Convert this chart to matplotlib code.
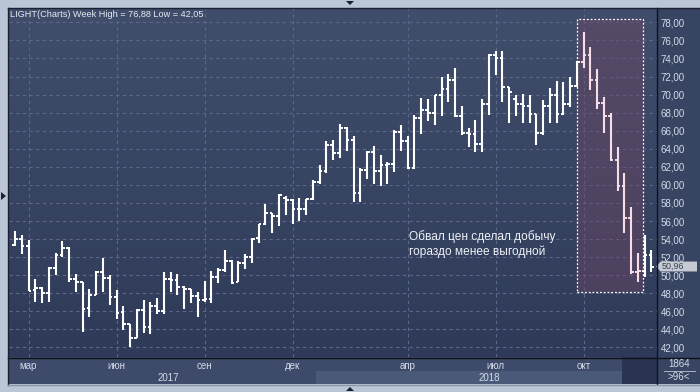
import matplotlib
matplotlib.use("Agg")
import matplotlib.pyplot as plt
import numpy as np
from matplotlib.patches import Rectangle, Polygon
from matplotlib.lines import Line2D

W, H = 700, 392

# weekly OHLC, LIGHT, from week of 20 Feb 2017 to week of 10 Dec 2018
opens = [53.3, 54.0, 53.2, 48.4, 48.6, 48.0, 50.8, 52.2, 53.0, 49.6,
         49.2, 46.4, 47.8, 50.4, 49.7, 47.6, 45.9, 44.6, 43.0, 46.2,
         44.3, 46.6, 46.0, 49.6, 49.5, 48.7, 48.5, 47.7, 47.3, 47.4,
         49.8, 50.6, 51.6, 49.3, 51.3, 52.0, 54.1, 55.7, 56.9, 56.6,
         58.6, 58.3, 57.3, 57.3, 58.4, 60.3, 61.5, 64.4, 63.5, 66.3,
         65.0, 59.1, 61.6, 63.6, 61.5, 62.2, 62.3, 65.9, 64.9, 61.9,
         67.4, 68.3, 68.0, 69.9, 70.6, 71.6, 67.6, 65.7, 65.6, 64.5,
         69.0, 74.4, 74.0, 70.8, 69.5, 69.0, 68.7, 67.8, 65.8, 68.7,
         70.0, 67.9, 69.0, 70.9, 73.6, 74.4, 71.6, 69.1, 67.6, 62.8,
         59.9, 56.3, 50.3, 50.5, 52.2]
highs = [54.9, 54.5, 53.9, 49.6, 48.7, 50.9, 52.5, 53.8, 53.1, 50.1,
         49.3, 48.5, 50.5, 51.9, 50.0, 48.4, 46.6, 44.6, 46.3, 47.2,
         47.0, 47.5, 50.3, 50.4, 50.1, 48.8, 48.5, 48.1, 49.4, 50.5,
         50.8, 52.8, 51.7, 51.6, 52.4, 54.1, 55.7, 57.9, 56.9, 59.0,
         58.8, 58.4, 58.5, 58.4, 60.5, 62.2, 64.9, 65.0, 66.7, 66.4,
         65.4, 61.9, 63.8, 64.3, 63.3, 62.5, 66.1, 66.6, 65.4, 67.7,
         69.6, 69.5, 70.0, 72.0, 72.3, 73.0, 68.7, 66.3, 67.2, 69.5,
         74.5, 74.8, 74.8, 70.8, 70.0, 70.1, 70.0, 67.8, 69.4, 70.7,
         71.5, 71.4, 72.0, 73.7, 76.88, 75.3, 72.8, 69.7, 68.0, 64.2,
         61.3, 57.5, 52.5, 54.5, 52.8]
lows = [53.2, 52.4, 48.2, 47.0, 46.9, 47.0, 50.0, 52.0, 49.2, 48.1,
        43.7, 45.4, 47.8, 48.1, 46.7, 45.2, 43.9, 42.05, 43.0, 43.6,
        43.5, 45.7, 45.7, 48.1, 47.8, 46.3, 46.9, 45.4, 47.0, 46.9,
        49.1, 50.3, 49.0, 49.2, 50.7, 51.4, 53.6, 55.6, 54.7, 55.5,
        56.7, 55.7, 56.0, 56.7, 58.3, 60.1, 61.3, 62.8, 63.0, 63.7,
        58.1, 58.1, 60.7, 60.1, 59.9, 60.1, 61.4, 63.7, 61.8, 61.8,
        65.6, 67.1, 66.6, 67.6, 69.2, 67.5, 65.5, 64.2, 63.6, 63.6,
        67.7, 72.2, 69.2, 66.9, 67.6, 66.8, 66.9, 64.4, 65.5, 66.9,
        66.9, 67.7, 68.6, 70.8, 73.0, 70.5, 68.4, 65.8, 62.6, 59.3,
        54.7, 50.1, 49.3, 49.8, 50.4]
closes = [54.0, 53.2, 48.3, 48.6, 48.0, 50.8, 52.2, 53.0, 49.6, 49.2,
          46.3, 47.8, 50.4, 49.7, 47.6, 45.8, 44.6, 43.0, 46.2, 44.3,
          46.6, 46.0, 49.6, 49.5, 48.7, 48.5, 47.7, 47.3, 47.4, 49.8,
          50.6, 51.6, 49.1, 51.3, 52.0, 54.0, 55.7, 56.9, 56.6, 58.9,
          58.3, 57.3, 57.3, 58.4, 60.3, 61.5, 64.4, 63.5, 66.3, 65.0,
          59.1, 61.6, 63.6, 61.5, 62.2, 62.3, 65.9, 64.9, 61.9, 67.4,
          68.3, 68.0, 69.9, 70.6, 71.6, 67.6, 65.7, 65.6, 64.5, 69.0,
          74.4, 74.0, 70.8, 70.3, 69.0, 68.7, 67.8, 65.8, 68.7, 70.0,
          67.9, 69.0, 70.9, 73.6, 74.4, 71.6, 69.1, 67.6, 62.8, 59.9,
          56.3, 50.3, 50.5, 52.2, 50.96]

month_labels = ["мар", "июн", "сен", "дек", "апр", "июл", "окт"]
month_bars = [2, 15, 28, 41, 58, 71, 84]
year_labels = ["2017", "2018"]
year_pos = [22.6, 70.0]
first_bar_2018 = 45
highlight_bars = (83.0, 92.8)
highlight_prices = (48.1, 78.35)
price_ticks = list(range(42, 80, 2))

FRAME = "#bac6d6"
PANEL = "#374462"
GRID = "#5a6889"
TXT = "#d4dbe8"
FONT = "Liberation Sans"


def fx(px):
    return px / W


def fy(py):
    return 1 - py / H


fig = plt.figure(figsize=(W / 100, H / 100), dpi=100)
fig.patch.set_facecolor(FRAME)

# right price panel and corner box
fig.patches.append(Rectangle((fx(657), fy(384)), (700 - 657) / W, (384 - 8) / H,
                             transform=fig.transFigure, facecolor=PANEL,
                             edgecolor="none", zorder=-1))

ax = fig.add_axes([fx(8.5), fy(357), (657 - 8.5) / W, (357 - 8) / H])
axb = fig.add_axes([fx(8.5), fy(384), (657 - 8.5) / W, (384 - 357) / H])

x = np.arange(len(closes))
xlim = (-0.96, 94.83)
ylim = (40.94, 79.59)
ax.set_xlim(xlim)
ax.set_ylim(ylim)

# background gradient
grad = np.linspace(0, 1, 256).reshape(-1, 1)
cmap = matplotlib.colors.LinearSegmentedColormap.from_list("bg", ["#2e3a58", "#404e6c"])
ax.imshow(grad, extent=[xlim[0], xlim[1], ylim[0], ylim[1]], origin="lower",
          aspect="auto", cmap=cmap, zorder=0)

for v in price_ticks:
    ax.axhline(v, color=GRID, lw=0.8, ls=(0, (3, 3)), zorder=1)
for b in month_bars:
    ax.axvline(b, color=GRID, lw=0.8, ls=(0, (3, 3)), zorder=1)

# highlighted crash area
ax.add_patch(Rectangle((highlight_bars[0], highlight_prices[0]),
                       highlight_bars[1] - highlight_bars[0],
                       highlight_prices[1] - highlight_prices[0],
                       facecolor="#6e4664", alpha=0.45, edgecolor="none", zorder=2))
ax.add_patch(Rectangle((highlight_bars[0], highlight_prices[0]),
                       highlight_bars[1] - highlight_bars[0],
                       highlight_prices[1] - highlight_prices[0],
                       facecolor="none", edgecolor="white", lw=0.9,
                       ls=(0, (1.5, 1.5)), zorder=3))

colors = ["#f8dde6" if highlight_bars[0] < i < highlight_bars[1] else "white" for i in x]
tick = 0.4
ax.vlines(x, lows, highs, colors=colors, lw=1.5, zorder=4)
ax.hlines(opens, x - tick, x, colors=colors, lw=1.4, zorder=4)
ax.hlines(closes, x, x + tick, colors=colors, lw=1.4, zorder=4)

ax.text(58.2, 53.45, "Обвал цен сделал добычу\nгораздо менее выгодной",
        color="#eef1f6", fontsize=8.6, family=FONT, va="center", ha="left",
        linespacing=1.3, zorder=5)

ax.yaxis.tick_right()
ax.set_yticks(price_ticks)
ax.set_yticklabels([f"{v},00" for v in price_ticks], family=FONT, fontsize=7, color=TXT)
ax.tick_params(axis="y", length=0, pad=2.5)
ax.set_xticks([])
for s in ax.spines.values():
    s.set_visible(False)

# last price marker
last = closes[-1]
tr = ax.get_yaxis_transform()
ax.add_patch(Polygon([(0.9985, last), (1.0055, last + 0.55), (1.0617, last + 0.55),
                      (1.0617, last - 0.55), (1.0055, last - 0.55)],
                     closed=True, transform=tr, facecolor="#c6cad2", edgecolor="none",
                     clip_on=False, zorder=6))
ax.text(1.0075, last, f"{last:.2f}".replace(".", ","), transform=tr, color="#3a4150",
        fontsize=6.4, family=FONT, va="center", ha="left", clip_on=False, zorder=7)

# title
fig.text(fx(10), fy(14.7), "LIGHT(Charts) Week High = 76,88 Low = 42,05",
         color="#e4e9f2", fontsize=6.6, family=FONT, va="center", ha="left")

# time axis band
axb.set_xlim(xlim)
axb.set_ylim(0, 2)
axb.set_facecolor("#3d4a69")
axb.add_patch(Rectangle((first_bar_2018 - 0.5, 0), xlim[1] - first_bar_2018, 1,
                        facecolor="#4b5979", edgecolor="none"))
axb.add_patch(Rectangle((89.7, 0), xlim[1] - 89.7, 2, facecolor="#2a3450", edgecolor="none"))
for lab, b in zip(month_labels, month_bars):
    axb.text(b, 1.3, lab, color=TXT, fontsize=7, family=FONT, ha="center", va="center")
for lab, p in zip(year_labels, year_pos):
    axb.text(p, 0.45, lab, color=TXT, fontsize=7, family=FONT, ha="center", va="center")
axb.set_xticks([])
axb.set_yticks([])
for s in axb.spines.values():
    s.set_visible(False)

# corner box
fig.text(fx(679), fy(364), "1864", color=TXT, fontsize=7, family=FONT, ha="center", va="center")
fig.text(fx(679), fy(377), ">96<", color=TXT, fontsize=7, family=FONT, ha="center", va="center")
fig.add_artist(Line2D([fx(664), fx(695)], [fy(371), fy(371)], color="#aab4c4", lw=0.7))

# dark separators
fig.add_artist(Line2D([fx(8), fx(700)], [fy(357.5), fy(357.5)], color="#0e121b", lw=1.0))
fig.add_artist(Line2D([fx(657), fx(657)], [fy(8), fy(384)], color="#0e121b", lw=1.0))
fig.add_artist(Line2D([fx(8), fx(8)], [fy(7.5), fy(384.5)], color="#1a2030", lw=1.0))
fig.add_artist(Line2D([fx(8), fx(700)], [fy(7.5), fy(7.5)], color="#1a2030", lw=1.0))
fig.add_artist(Line2D([fx(8), fx(700)], [fy(384.5), fy(384.5)], color="#8a96a8", lw=1.0))

# frame arrows
for pts in ([(346, 1), (354, 1), (350, 5)], [(346, 391), (354, 391), (350, 387)],
            [(1, 192), (1, 200), (6, 196)]):
    fig.patches.append(Polygon([(fx(a), fy(b)) for a, b in pts], closed=True,
                               transform=fig.transFigure, facecolor="#1a2030",
                               edgecolor="none"))

fig.savefig("out.png", dpi=100, facecolor=fig.get_facecolor())
